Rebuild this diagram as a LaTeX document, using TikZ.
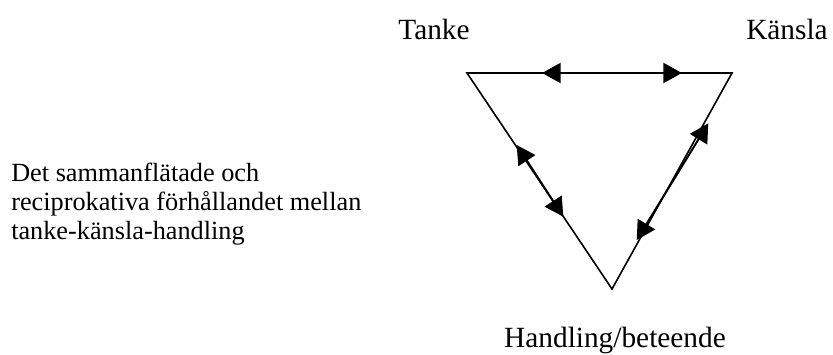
\documentclass[tikz,border=0pt]{standalone}
\usepackage{fontspec}
\setmainfont{Liberation Serif}
\usetikzlibrary{arrows.meta}

\begin{document}
\begin{tikzpicture}[x=0.75pt,y=-0.75pt]
  \tikzstyle{every node}+=[inner sep=0pt]
  \tikzstyle{corner label}=[font=\fontsize{22}{26}\selectfont, anchor=base]
  \tikzstyle{desc line}=[font=\fontsize{19.7}{21.75}\selectfont, anchor=base west]
  \tikzstyle{both ways}=[black, line width=1.5pt, {Triangle[length=14pt,width=15pt]}-{Triangle[length=14pt,width=15pt]}]
  \useasboundingbox (0,0) rectangle (833,354);
  \coordinate (tanke) at (467,73);
  \coordinate (kansla) at (732,73);
  \coordinate (handling) at (612,289);
  \draw [black, line width=1.2pt, line join=miter] (tanke) -- (kansla) -- (handling) -- cycle;
  \node [corner label] (tankelabel) at (434,39) {Tanke};
  \node [corner label] (kanslalabel) at (787,39) {Känsla};
  \node [corner label] (handlinglabel) at (615,347) {Handling/beteende};
  \coordinate (tk1) at (542,73);
  \coordinate (tk2) at (682,73);
  \draw [both ways] (tk1) -- (tk2);
  \coordinate (th1) at (516.7,145);
  \coordinate (th2) at (563.3,216.7);
  \draw [both ways] (th1) -- (th2);
  \coordinate (kh1) at (708.3,123.3);
  \coordinate (kh2) at (636.7,240);
  \draw [both ways] (kh1) -- (kh2);
  \node [desc line] (desc1) at (11,181) {Det sammanflätade och};
  \node [desc line] (desc2) at (11,210) {reciprokativa förhållandet mellan};
  \node [desc line] (desc3) at (11,239) {tanke-känsla-handling};
\end{tikzpicture}
\end{document}
